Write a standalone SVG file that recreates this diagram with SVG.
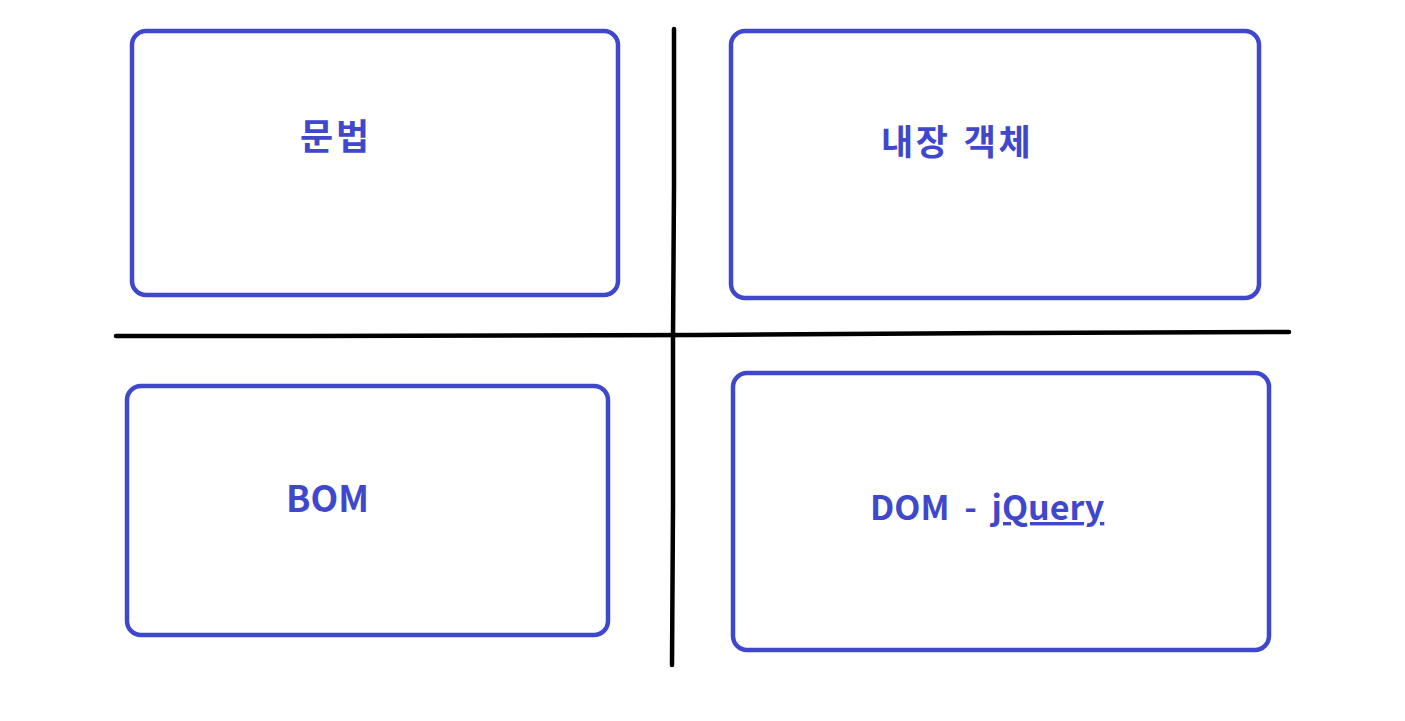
<svg xmlns="http://www.w3.org/2000/svg" width="1405" height="721" viewBox="0 0 1405 721">
<style>
.box{fill:none;stroke:#3f48cc;stroke-width:4.5}
.lbl{fill:#3f48cc;font-family:"Noto Sans CJK KR","Noto Sans",sans-serif;font-weight:bold}
.axis{fill:none;stroke:#000;stroke-width:4.5;stroke-linejoin:round;stroke-linecap:round}
</style>
<rect width="1405" height="721" fill="#fff"/>
<g id="connectors">
<polyline class="axis" points="116,336 310,336 700,335 1000,333 1289,332"/>
<polyline class="axis" points="674,29 674,186 673,340 673,505 672,665"/>
</g>
<g id="node-grammar">
<rect class="box" x="132" y="31" width="486" height="264" rx="14"/>
<text class="lbl" x="300" y="150" font-size="36" letter-spacing="3">문법</text>
</g>
<g id="node-builtin">
<rect class="box" x="731" y="31" width="528" height="267" rx="14"/>
<text class="lbl" x="881" y="155" font-size="35" letter-spacing="2.5" word-spacing="3">내장 객체</text>
</g>
<g id="node-bom">
<rect class="box" x="127" y="386" width="481" height="249" rx="14"/>
<text class="lbl" x="286" y="512" font-size="36">BOM</text>
</g>
<g id="node-dom">
<rect class="box" x="733" y="373" width="536" height="277" rx="14"/>
<text class="lbl" x="870" y="520" font-size="34" word-spacing="7">DOM - <tspan text-decoration="underline">jQuery</tspan></text>
</g>
</svg>
